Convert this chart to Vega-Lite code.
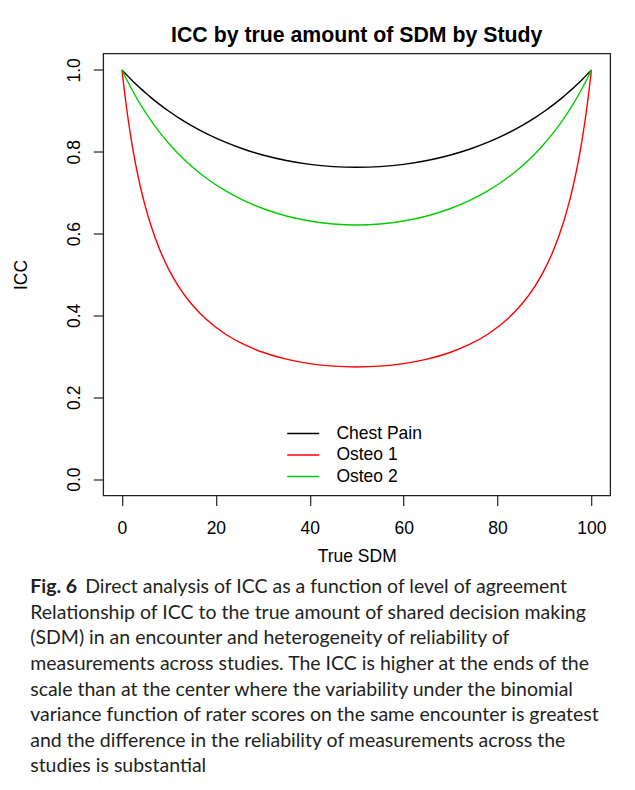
{
  "$schema": "https://vega.github.io/schema/vega-lite/v6.json",
  "background": "white",
  "padding": {"left": 11.2, "top": 23.5, "right": 0, "bottom": 0},
  "spacing": 8,
  "datasets": {
    "curves": [
      {"s": "Chest Pain", "x": 0, "icc": 1},
      {"s": "Chest Pain", "x": 0.5, "icc": 0.9938},
      {"s": "Chest Pain", "x": 1, "icc": 0.9878},
      {"s": "Chest Pain", "x": 2, "icc": 0.9761},
      {"s": "Chest Pain", "x": 3, "icc": 0.9649},
      {"s": "Chest Pain", "x": 4, "icc": 0.9542},
      {"s": "Chest Pain", "x": 5, "icc": 0.944},
      {"s": "Chest Pain", "x": 6, "icc": 0.9341},
      {"s": "Chest Pain", "x": 8, "icc": 0.9158},
      {"s": "Chest Pain", "x": 10, "icc": 0.8989},
      {"s": "Chest Pain", "x": 12, "icc": 0.8834},
      {"s": "Chest Pain", "x": 15, "icc": 0.8625},
      {"s": "Chest Pain", "x": 18, "icc": 0.8442},
      {"s": "Chest Pain", "x": 22, "icc": 0.8234},
      {"s": "Chest Pain", "x": 26, "icc": 0.8061},
      {"s": "Chest Pain", "x": 30, "icc": 0.7921},
      {"s": "Chest Pain", "x": 35, "icc": 0.7786},
      {"s": "Chest Pain", "x": 40, "icc": 0.7692},
      {"s": "Chest Pain", "x": 45, "icc": 0.7637},
      {"s": "Chest Pain", "x": 50, "icc": 0.7619},
      {"s": "Chest Pain", "x": 55, "icc": 0.7637},
      {"s": "Chest Pain", "x": 60, "icc": 0.7692},
      {"s": "Chest Pain", "x": 65, "icc": 0.7786},
      {"s": "Chest Pain", "x": 70, "icc": 0.7921},
      {"s": "Chest Pain", "x": 74, "icc": 0.8061},
      {"s": "Chest Pain", "x": 78, "icc": 0.8234},
      {"s": "Chest Pain", "x": 82, "icc": 0.8442},
      {"s": "Chest Pain", "x": 85, "icc": 0.8625},
      {"s": "Chest Pain", "x": 88, "icc": 0.8834},
      {"s": "Chest Pain", "x": 90, "icc": 0.8989},
      {"s": "Chest Pain", "x": 92, "icc": 0.9158},
      {"s": "Chest Pain", "x": 94, "icc": 0.9341},
      {"s": "Chest Pain", "x": 95, "icc": 0.944},
      {"s": "Chest Pain", "x": 96, "icc": 0.9542},
      {"s": "Chest Pain", "x": 97, "icc": 0.9649},
      {"s": "Chest Pain", "x": 98, "icc": 0.9761},
      {"s": "Chest Pain", "x": 99, "icc": 0.9878},
      {"s": "Chest Pain", "x": 99.5, "icc": 0.9938},
      {"s": "Chest Pain", "x": 100, "icc": 1},
      {"s": "Osteo 1", "x": 0, "icc": 1},
      {"s": "Osteo 1", "x": 0.5, "icc": 0.9499},
      {"s": "Osteo 1", "x": 1, "icc": 0.905},
      {"s": "Osteo 1", "x": 2, "icc": 0.828},
      {"s": "Osteo 1", "x": 3, "icc": 0.7643},
      {"s": "Osteo 1", "x": 4, "icc": 0.7107},
      {"s": "Osteo 1", "x": 5, "icc": 0.6651},
      {"s": "Osteo 1", "x": 6, "icc": 0.6258},
      {"s": "Osteo 1", "x": 8, "icc": 0.5618},
      {"s": "Osteo 1", "x": 10, "icc": 0.5118},
      {"s": "Osteo 1", "x": 12, "icc": 0.4718},
      {"s": "Osteo 1", "x": 15, "icc": 0.4253},
      {"s": "Osteo 1", "x": 18, "icc": 0.3899},
      {"s": "Osteo 1", "x": 22, "icc": 0.3547},
      {"s": "Osteo 1", "x": 26, "icc": 0.329},
      {"s": "Osteo 1", "x": 30, "icc": 0.31},
      {"s": "Osteo 1", "x": 35, "icc": 0.2931},
      {"s": "Osteo 1", "x": 40, "icc": 0.2822},
      {"s": "Osteo 1", "x": 45, "icc": 0.276},
      {"s": "Osteo 1", "x": 50, "icc": 0.274},
      {"s": "Osteo 1", "x": 55, "icc": 0.276},
      {"s": "Osteo 1", "x": 60, "icc": 0.2822},
      {"s": "Osteo 1", "x": 65, "icc": 0.2931},
      {"s": "Osteo 1", "x": 70, "icc": 0.31},
      {"s": "Osteo 1", "x": 74, "icc": 0.329},
      {"s": "Osteo 1", "x": 78, "icc": 0.3547},
      {"s": "Osteo 1", "x": 82, "icc": 0.3899},
      {"s": "Osteo 1", "x": 85, "icc": 0.4253},
      {"s": "Osteo 1", "x": 88, "icc": 0.4718},
      {"s": "Osteo 1", "x": 90, "icc": 0.5118},
      {"s": "Osteo 1", "x": 92, "icc": 0.5618},
      {"s": "Osteo 1", "x": 94, "icc": 0.6258},
      {"s": "Osteo 1", "x": 95, "icc": 0.6651},
      {"s": "Osteo 1", "x": 96, "icc": 0.7107},
      {"s": "Osteo 1", "x": 97, "icc": 0.7643},
      {"s": "Osteo 1", "x": 98, "icc": 0.828},
      {"s": "Osteo 1", "x": 99, "icc": 0.905},
      {"s": "Osteo 1", "x": 99.5, "icc": 0.9499},
      {"s": "Osteo 1", "x": 100, "icc": 1},
      {"s": "Osteo 2", "x": 0, "icc": 1},
      {"s": "Osteo 2", "x": 0.5, "icc": 0.988},
      {"s": "Osteo 2", "x": 1, "icc": 0.9764},
      {"s": "Osteo 2", "x": 2, "icc": 0.9544},
      {"s": "Osteo 2", "x": 3, "icc": 0.9337},
      {"s": "Osteo 2", "x": 4, "icc": 0.9143},
      {"s": "Osteo 2", "x": 5, "icc": 0.8961},
      {"s": "Osteo 2", "x": 6, "icc": 0.879},
      {"s": "Osteo 2", "x": 8, "icc": 0.8478},
      {"s": "Osteo 2", "x": 10, "icc": 0.8199},
      {"s": "Osteo 2", "x": 12, "icc": 0.7951},
      {"s": "Osteo 2", "x": 15, "icc": 0.7627},
      {"s": "Osteo 2", "x": 18, "icc": 0.7352},
      {"s": "Osteo 2", "x": 22, "icc": 0.7049},
      {"s": "Osteo 2", "x": 26, "icc": 0.6805},
      {"s": "Osteo 2", "x": 30, "icc": 0.6612},
      {"s": "Osteo 2", "x": 35, "icc": 0.643},
      {"s": "Osteo 2", "x": 40, "icc": 0.6307},
      {"s": "Osteo 2", "x": 45, "icc": 0.6235},
      {"s": "Osteo 2", "x": 50, "icc": 0.6211},
      {"s": "Osteo 2", "x": 55, "icc": 0.6235},
      {"s": "Osteo 2", "x": 60, "icc": 0.6307},
      {"s": "Osteo 2", "x": 65, "icc": 0.643},
      {"s": "Osteo 2", "x": 70, "icc": 0.6612},
      {"s": "Osteo 2", "x": 74, "icc": 0.6805},
      {"s": "Osteo 2", "x": 78, "icc": 0.7049},
      {"s": "Osteo 2", "x": 82, "icc": 0.7352},
      {"s": "Osteo 2", "x": 85, "icc": 0.7627},
      {"s": "Osteo 2", "x": 88, "icc": 0.7951},
      {"s": "Osteo 2", "x": 90, "icc": 0.8199},
      {"s": "Osteo 2", "x": 92, "icc": 0.8478},
      {"s": "Osteo 2", "x": 94, "icc": 0.879},
      {"s": "Osteo 2", "x": 95, "icc": 0.8961},
      {"s": "Osteo 2", "x": 96, "icc": 0.9143},
      {"s": "Osteo 2", "x": 97, "icc": 0.9337},
      {"s": "Osteo 2", "x": 98, "icc": 0.9544},
      {"s": "Osteo 2", "x": 99, "icc": 0.9764},
      {"s": "Osteo 2", "x": 99.5, "icc": 0.988},
      {"s": "Osteo 2", "x": 100, "icc": 1}
    ],
    "caption": [
      {"line": 1, "part": "bold", "text": "Fig. 6"},
      {"line": 1, "part": "lead", "text": "Direct analysis of ICC as a function of level of agreement"},
      {"line": 2, "part": "body", "text": "Relationship of ICC to the true amount of shared decision making"},
      {"line": 3, "part": "body", "text": "(SDM) in an encounter and heterogeneity of reliability of"},
      {"line": 4, "part": "body", "text": "measurements across studies. The ICC is higher at the ends of the"},
      {"line": 5, "part": "body", "text": "scale than at the center where the variability under the binomial"},
      {"line": 6, "part": "body", "text": "variance function of rater scores on the same encounter is greatest"},
      {"line": 7, "part": "body", "text": "and the difference in the reliability of measurements across the"},
      {"line": 8, "part": "body", "text": "studies is substantial"}
    ]
  },
  "vconcat": [
    {
      "width": 507,
      "height": 442,
      "title": {
        "text": "ICC by true amount of SDM by Study",
        "frame": "group",
        "anchor": "middle",
        "baseline": "bottom",
        "offset": -13.5,
        "font": "Liberation Sans",
        "fontSize": 21.3,
        "fontWeight": "bold",
        "color": "#000000"
      },
      "data": {"name": "curves"},
      "mark": {"type": "line", "interpolate": "monotone", "strokeWidth": 1.4},
      "encoding": {
        "x": {
          "field": "x",
          "type": "quantitative",
          "title": "True SDM",
          "scale": {"domain": [-4, 104], "nice": false, "zero": false},
          "axis": {
            "values": [0, 20, 40, 60, 80, 100],
            "labelPadding": 14.4,
            "titlePadding": 10,
            "labelFlush": false
          }
        },
        "y": {
          "field": "icc",
          "type": "quantitative",
          "title": "ICC",
          "scale": {"domain": [-0.04, 1.04], "nice": false, "zero": false},
          "axis": {
            "values": [0, 0.2, 0.4, 0.6, 0.8, 1.0],
            "format": ".1f",
            "labelAngle": 270,
            "labelAlign": "center",
            "labelBaseline": "middle",
            "labelPadding": 19,
            "titlePadding": 35,
            "labelFlush": false
          }
        },
        "color": {
          "field": "s",
          "type": "nominal",
          "scale": {
            "domain": ["Chest Pain", "Osteo 1", "Osteo 2"],
            "range": ["#000000", "#ff0000", "#00cd00"]
          },
          "legend": {
            "orient": "none",
            "legendX": 191.3,
            "legendY": 371.3,
            "title": null,
            "padding": 0,
            "symbolType": "M-4,0H4",
            "symbolSize": 64,
            "symbolStrokeWidth": 1.4,
            "symbolFillColor": "transparent",
            "labelFont": "Liberation Sans",
            "labelFontSize": 17.5,
            "labelColor": "#000000",
            "labelOffset": 24.4,
            "rowPadding": 2.5
          }
        }
      }
    },
    {
      "width": 600,
      "height": 204.8,
      "view": {"stroke": null},
      "data": {"name": "caption"},
      "encoding": {
        "x": {"datum": 0, "type": "quantitative", "scale": {"domain": [0, 1]}, "axis": null},
        "y": {"field": "line", "type": "quantitative", "scale": {"domain": [0.5, 8.5], "reverse": true}, "axis": null},
        "text": {"field": "text"}
      },
      "layer": [
        {
          "transform": [{"filter": "datum.part == 'bold'"}],
          "mark": {"type": "text", "align": "left", "baseline": "middle", "font": "Lato", "fontSize": 19.5, "fontWeight": "bold", "color": "#231f20", "dx": -73}
        },
        {
          "transform": [{"filter": "datum.part == 'lead'"}],
          "mark": {"type": "text", "align": "left", "baseline": "middle", "font": "Lato", "fontSize": 19.5, "color": "#231f20", "dx": -18}
        },
        {
          "transform": [{"filter": "datum.part == 'body'"}],
          "mark": {"type": "text", "align": "left", "baseline": "middle", "font": "Lato", "fontSize": 19.5, "color": "#231f20", "dx": -73}
        }
      ]
    }
  ],
  "config": {
    "font": "Liberation Sans",
    "view": {"stroke": "#222222", "strokeWidth": 1.3},
    "axis": {
      "domain": false,
      "grid": false,
      "tickSize": 10,
      "tickColor": "#222222",
      "tickWidth": 1.2,
      "labelFont": "Liberation Sans",
      "labelFontSize": 17.5,
      "labelColor": "#000000",
      "titleFont": "Liberation Sans",
      "titleFontSize": 17.5,
      "titleFontWeight": "normal",
      "titleColor": "#000000"
    }
  }
}
